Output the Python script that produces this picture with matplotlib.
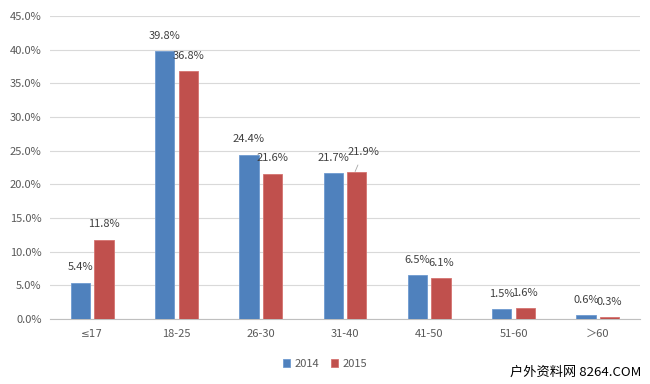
import matplotlib
matplotlib.use("Agg")
import matplotlib.pyplot as plt
import numpy as np

categories = ["≤17", "18-25", "26-30", "31-40", "41-50", "51-60", "＞60"]
series_2014 = [5.4, 39.8, 24.4, 21.7, 6.5, 1.5, 0.6]
series_2015 = [11.8, 36.8, 21.6, 21.9, 6.1, 1.6, 0.3]
years = ["2014", "2015"]
yticks = [0, 5, 10, 15, 20, 25, 30, 35, 40, 45]

plt.rcParams['font.family'] = ['Noto Sans CJK SC', 'DejaVu Sans']

fig = plt.figure(figsize=(6.5, 3.84), dpi=100)
ax = fig.add_axes([50/650, 1-319/384, 590/650, (319-16)/384])

x = np.arange(len(categories))
w = 0.23
off = 0.14
blue = "#4F81BD"
red = "#C0504D"
b1 = ax.bar(x - off, series_2014, w, color=blue, edgecolor="#6F9AD0", linewidth=0.6, label=years[0], zorder=3)
b2 = ax.bar(x + off, series_2015, w, color=red, edgecolor="#D57370", linewidth=0.6, label=years[1], zorder=3)

txtc = "#404040"
fs = 8
for i, v in enumerate(series_2014):
    ax.annotate(f"{v:.1f}%", (x[i] - off, v), xytext=(0, 11), textcoords="offset points",
                ha="center", va="center", fontsize=fs, color=txtc)
for i, v in enumerate(series_2015):
    if categories[i] == "31-40":
        ax.annotate(f"{v:.1f}%", (x[i] + off - 0.02, v), xytext=(6, 14), textcoords="offset points",
                    ha="center", va="center", fontsize=fs, color=txtc,
                    arrowprops=dict(arrowstyle="-", color="#A6A6A6", lw=0.6, shrinkA=4, shrinkB=0))
    else:
        ax.annotate(f"{v:.1f}%", (x[i] + off, v), xytext=(0, 11), textcoords="offset points",
                    ha="center", va="center", fontsize=fs, color=txtc)

ax.set_xlim(-0.5, len(categories) - 0.5)
ax.set_ylim(0, 45)
ax.set_yticks(yticks)
ax.set_yticklabels([f"{t:.1f}%" for t in yticks])
ax.set_xticks(x)
ax.set_xticklabels(categories)
ax.get_xticklabels()[0].set_family(['DejaVu Sans'])
ax.get_xticklabels()[0].set_fontsize(7.5)
ax.tick_params(axis="both", length=0, labelsize=fs, colors="#595959")
ax.get_xticklabels()[0].set_fontsize(7.5)
ax.tick_params(axis="y", pad=6)
ax.tick_params(axis="x", pad=7)
ax.grid(axis="y", color="#D9D9D9", linewidth=0.8, zorder=0)
for s in ["top", "right", "left"]:
    ax.spines[s].set_visible(False)
ax.spines["bottom"].set_color("#BFBFBF")
ax.spines["bottom"].set_linewidth(0.8)
ax.set_axisbelow(True)

fig.legend(handles=[b1, b2], labels=years, loc="center", bbox_to_anchor=(325/650, 1-364/384),
           ncol=2, frameon=False, fontsize=fs, handlelength=0.7, handleheight=0.7,
           handletextpad=0.4, columnspacing=1.0, labelcolor="#595959")

fig.text(641/650, 1-372/384, "户外资料网 8264.COM", ha="right", va="center", fontsize=9.5, color="black")

fig.savefig("out.png", dpi=100)
